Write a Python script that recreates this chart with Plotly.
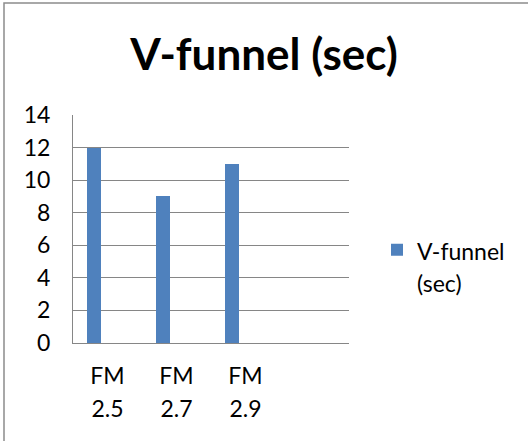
import plotly.graph_objects as go

# Chart data
categories = ["FM 2.5", "FM 2.7", "FM 2.9"]
vfunnel_sec = [12, 9, 11]
series_name = "V-funnel (sec)"
y_ticks = [0, 2, 4, 6, 8, 10, 12, 14]

W, H = 528, 441
M_L, M_R, M_T, M_B = 73, 179, 115, 98
plot_w = W - M_L - M_R
plot_h = H - M_T - M_B

BLUE = "#4F81BD"
GRID = "#868686"
FONT = "Lato, Carlito, Calibri, sans-serif"
LABEL_PX = 23
LINE_PX = 25  # sets the spacing between wrapped label lines


def wrapped(text, size=LABEL_PX):
    parts = text.split(" ")
    return "<br>".join(f"<span style='font-size:{size}px'>{p}</span>" for p in parts)


fig = go.Figure()
fig.add_trace(go.Bar(
    x=categories,
    y=vfunnel_sec,
    name=wrapped(series_name),
    marker=dict(color=BLUE, line=dict(width=0)),
    width=0.21,
    offset=-0.30,
))

# outer chart frame
fig.add_shape(
    type="rect", xref="paper", yref="paper",
    x0=(4 - M_L) / plot_w, x1=(533 - M_L) / plot_w,
    y0=(H - M_B - 446) / plot_h, y1=(H - M_B - 3) / plot_h,
    line=dict(color="#8C8C8C", width=1.5), fillcolor="rgba(0,0,0,0)", layer="below",
)

fig.update_layout(
    width=W, height=H,
    margin=dict(l=M_L, r=M_R, t=M_T, b=M_B),
    paper_bgcolor="white", plot_bgcolor="white",
    font=dict(family=FONT, color="black", size=LABEL_PX),
    title=dict(
        text="<b>V-funnel (sec)</b>", x=0.5, xanchor="center",
        y=1 - 55 / H, yanchor="middle",
        font=dict(family=FONT, size=44, color="black"),
    ),
    showlegend=True,
    legend=dict(
        x=(377 - M_L) / plot_w, xanchor="left",
        y=(H - M_B - 266) / plot_h, yanchor="middle",
        valign="top",
        font=dict(family=FONT, size=LINE_PX, color="black"),
        bgcolor="rgba(0,0,0,0)",
    ),
    bargap=0,
)

fig.update_xaxes(
    type="category",
    categoryorder="array", categoryarray=categories,
    range=[-0.5, 3.5],
    tickvals=categories,
    ticktext=[wrapped(c) for c in categories],
    tickfont=dict(family=FONT, size=LINE_PX, color="black"),
    showgrid=False, showline=True, linecolor=GRID, linewidth=1,
    ticks="", ticklabelstandoff=10,
    fixedrange=True,
)
fig.update_yaxes(
    range=[0, 14], tickvals=y_ticks,
    tickfont=dict(family=FONT, size=LABEL_PX, color="black"),
    showgrid=True, gridcolor=GRID, gridwidth=1,
    showline=True, linecolor=GRID, linewidth=1,
    zeroline=False, ticks="", ticklabelstandoff=17,
    fixedrange=True,
)

fig.write_html("out.html")
